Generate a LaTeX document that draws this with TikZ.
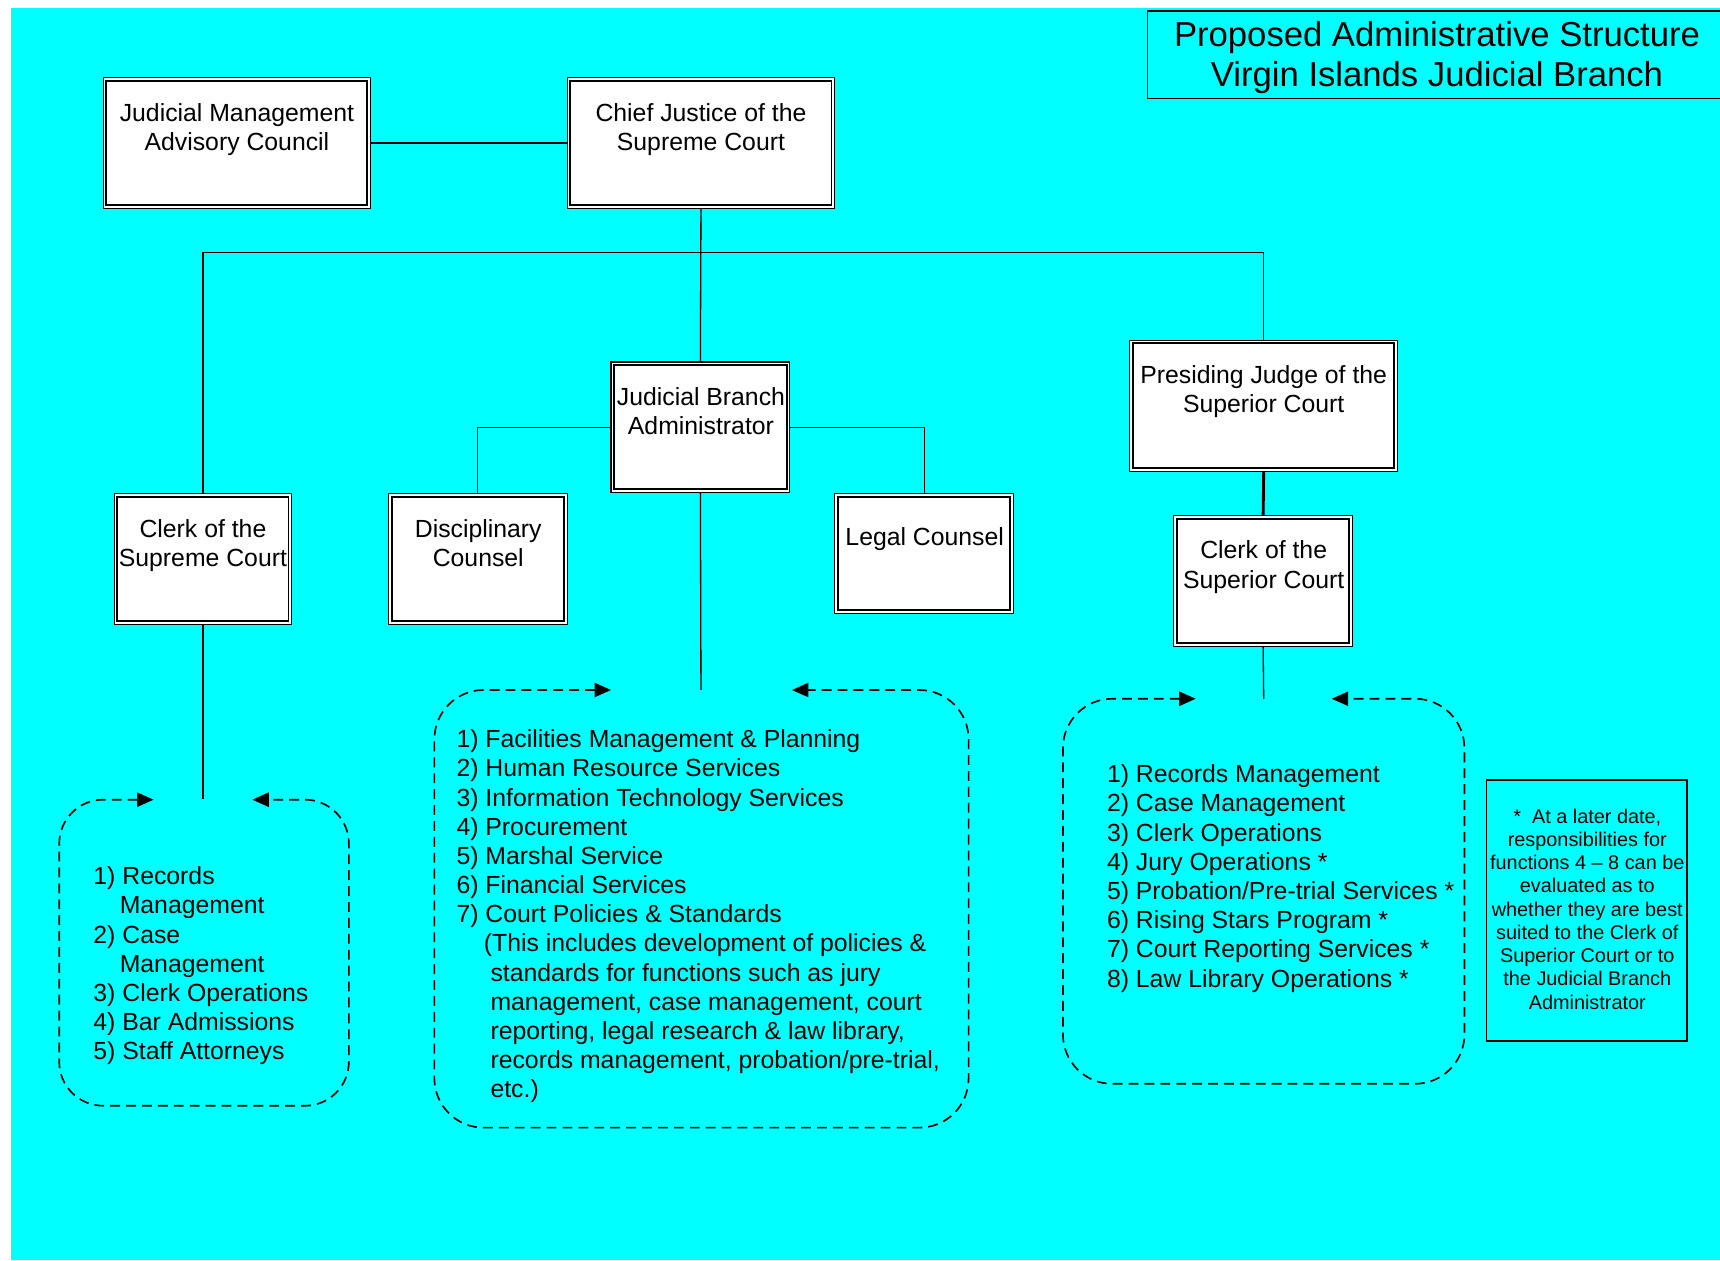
\documentclass[tikz,border=0pt]{standalone}
\usepackage{fontspec}
\setmainfont{Liberation Sans}
\usetikzlibrary{arrows.meta}
\definecolor{bgcyan}{RGB}{0,255,255}
\begin{document}
\begin{tikzpicture}[x=1pt,y=-1pt,
  obox/.style n args={2}{draw,line width=1pt,fill=white,inner sep=0pt,minimum width=#1,minimum height=#2},
  lab/.style={font=\fontsize{22.6}{26.6}\selectfont,align=center,inner sep=0pt,anchor=north},
  lst/.style={font=\fontsize{22.6}{26.6}\selectfont,align=left,inner sep=0pt,anchor=north west},
  conn/.style={line width=1.2pt},
  thickconn/.style={line width=2.6pt},
  dpath/.style={line width=1.5pt,dash pattern=on 9pt off 5.5pt,rounded corners=#1,
    arrows={Triangle[length=15pt,width=13pt]-Triangle[length=15pt,width=13pt]}},
]
\useasboundingbox (0,0) rectangle (1568,1149);
\fill[bgcyan] (10,7) rectangle (1568,1149);

% title
\node[draw,line width=1.2pt,inner sep=0pt,minimum width=524pt,minimum height=80pt] (titlebox) at (1308,50) {};
\node[font=\fontsize{31.6}{37}\selectfont,align=center,inner sep=0pt,anchor=north] (titletext) at (1310,19)
  {Proposed Administrative Structure\\Virgin Islands Judicial Branch};

% boxes
\node[obox={244pt}{119pt}] (jmac) at (216,130.5) {};
\node[obox={244pt}{119pt}] (cj) at (639,130.5) {};
\node[obox={163pt}{119pt}] (jba) at (638.5,389.5) {};
\node[obox={162pt}{119pt}] (csc) at (185,509.5) {};
\node[obox={163pt}{119pt}] (dc) at (435.5,509.5) {};
\node[obox={163pt}{109pt}] (lc) at (842.5,504.5) {};
\node[obox={244pt}{120pt}] (pj) at (1152,370) {};
\node[obox={163pt}{119pt}] (csup) at (1151.5,529.5) {};
\foreach \n in {jmac,cj,jba,csc,dc,lc,pj,csup}
  \draw[line width=1.8pt] ([shift={(3.5,3.5)}]\n.north west) rectangle ([shift={(-3.5,-3.5)}]\n.south east);

\node[lab] (tjmac) at (216,94) {Judicial Management\\Advisory Council};
\node[lab] (tcj) at (639,94) {Chief Justice of the\\Supreme Court};
\node[lab] (tjba) at (639,353) {Judicial Branch\\Administrator};
\node[lab] (tcsc) at (185,473) {Clerk of the\\Supreme Court};
\node[lab] (tdc) at (436,473) {Disciplinary\\Counsel};
\node[lab] (tlc) at (843,481) {Legal Counsel};
\node[lab] (tpj) at (1152,333) {Presiding Judge of the\\Superior Court};
\node[lab] (tcsup) at (1152,493) {Clerk of the\\Superior Court};

% connectors
\coordinate (hL) at (185,230);
\coordinate (hR) at (1152,230);
\coordinate (gapL) at (185,728);
\coordinate (gapM) at (639,629);
\coordinate (gapR) at (1152,637);
\draw[conn] (jmac.east) -- (cj.west);
\draw[conn] (cj.south) -- (jba.north);
\draw[conn] (hL) -- (hR);
\draw[conn] (hL) -- (csc.north);
\draw[conn] (hR) -- (pj.north);
\draw[conn] (jba.west) -| (dc.north);
\draw[conn] (jba.east) -| (lc.north);
\draw[thickconn] (pj.south) -- (csup.north);
\draw[conn] (jba.south) -- (gapM);
\draw[conn] (csc.south) -- (gapL);
\draw[conn] (csup.south) -- (gapR);

% dashed groups
\draw[dpath=40pt] (140,729) -- (54,729) -- (54,1008) -- (318,1008) -- (318,729) -- (230,729);
\draw[dpath=45pt] (557,629) -- (396,629) -- (396,1028) -- (883,1028) -- (883,629) -- (722,629);
\draw[dpath=45pt] (1090,637) -- (969,637) -- (969,988) -- (1335,988) -- (1335,637) -- (1214,637);

\node[lst] (listL) at (85,790) {1) Records\\
\hspace*{24pt}Management\\
2) Case\\
\hspace*{24pt}Management\\
3) Clerk Operations\\
4) Bar Admissions\\
5) Staff Attorneys};

\node[lst] (listM) at (416,665) {1) Facilities Management \& Planning\\
2) Human Resource Services\\
3) Information Technology Services\\
4) Procurement\\
5) Marshal Service\\
6) Financial Services\\
7) Court Policies \& Standards\\
\hspace*{25pt}(This includes development of policies \&\\
\hspace*{31pt}standards for functions such as jury\\
\hspace*{31pt}management, case management, court\\
\hspace*{31pt}reporting, legal research \& law library,\\
\hspace*{31pt}records management, probation/pre-trial,\\
\hspace*{31pt}etc.)};

\node[lst] (listR) at (1009,697) {1) Records Management\\
2) Case Management\\
3) Clerk Operations\\
4) Jury Operations *\\
5) Probation/Pre-trial Services *\\
6) Rising Stars Program *\\
7) Court Reporting Services *\\
8) Law Library Operations *};

% note
\node[draw,line width=1.3pt,inner sep=0pt,minimum width=183pt,minimum height=238pt] (note) at (1446.5,830) {};
\node[font=\fontsize{18.1}{21.2}\selectfont,align=center,inner sep=0pt,anchor=north] (notetext) at (1447,737)
  {*~ At a later date,\\responsibilities for\\functions 4 – 8 can be\\evaluated as to\\whether they are best\\suited to the Clerk of\\Superior Court or to\\the Judicial Branch\\Administrator};
\end{tikzpicture}
\end{document}
